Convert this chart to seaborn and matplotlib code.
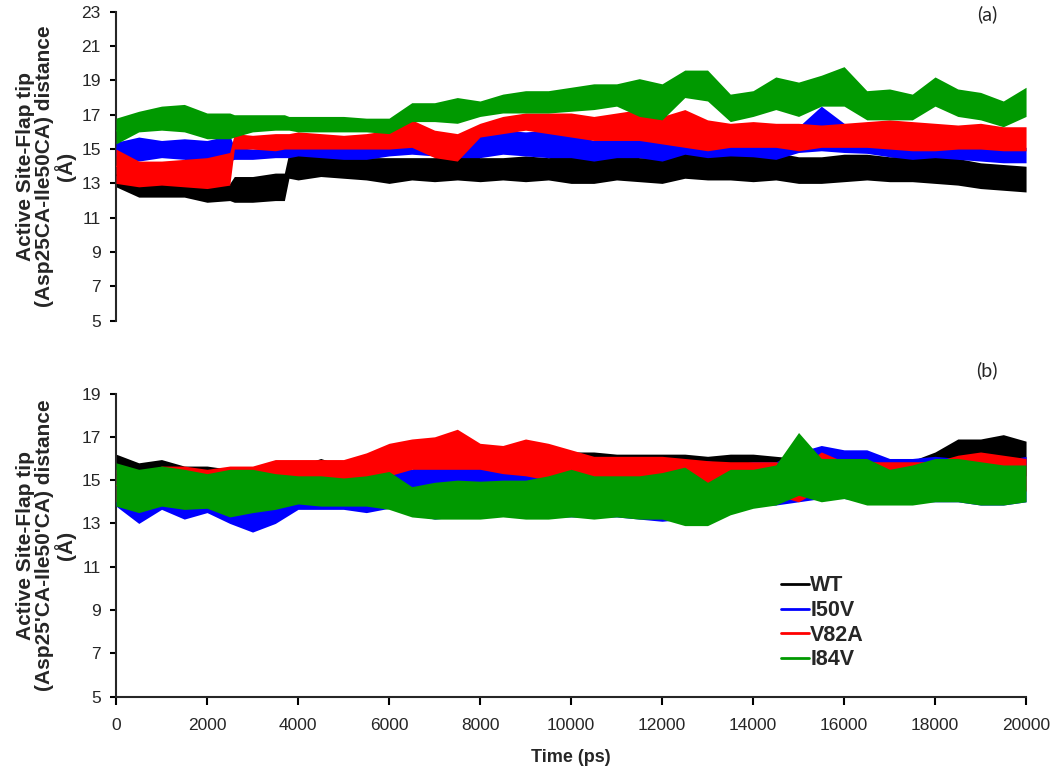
import matplotlib
matplotlib.use("Agg")
import matplotlib.pyplot as plt
from matplotlib.lines import Line2D
import numpy as np
import pandas as pd
import seaborn as sns

# ---- data: lower / upper edge of each noisy trace ----
series = ["WT", "I50V", "V82A", "I84V"]
colors = ["#000000", "#0000ff", "#ff0000", "#009900"]

# panel (a): Asp25CA-Ile50CA
time_a = [0, 500, 1000, 1500, 2000, 2500, 2600, 3000, 3500, 3700, 3800, 4000,
          4500, 5000, 5500, 6000, 6500, 7000, 7500, 8000, 8500, 9000, 9500,
          10000, 10500, 11000, 11500, 12000, 12500, 13000, 13500, 14000, 14500,
          15000, 15500, 16000, 16500, 17000, 17500, 18000, 18500, 19000, 19500, 20000]
wt_a_lo = [12.8, 12.2, 12.2, 12.2, 11.9, 12.0, 11.9, 11.9, 12.0, 12.0, 13.3, 13.2,
           13.4, 13.3, 13.2, 13.0, 13.2, 13.1, 13.2, 13.1, 13.2, 13.1, 13.2,
           13.0, 13.0, 13.2, 13.1, 13.0, 13.3, 13.2, 13.2, 13.1, 13.2,
           13.0, 13.0, 13.1, 13.2, 13.1, 13.1, 13.0, 12.9, 12.7, 12.6, 12.5]
wt_a_hi = [14.2, 13.2, 13.0, 13.0, 12.9, 13.0, 13.4, 13.4, 13.6, 13.6, 14.8, 14.8,
           14.7, 14.5, 14.5, 14.5, 14.5, 14.5, 14.7, 14.5, 14.5, 14.6, 14.5,
           14.6, 14.5, 14.7, 14.5, 14.5, 14.8, 14.7, 14.75, 14.8, 14.8,
           14.55, 14.55, 14.7, 14.7, 14.55, 14.6, 14.55, 14.45, 14.2, 14.1, 14.0]
i50v_a_lo = [14.6, 14.3, 14.5, 14.4, 14.1, 14.3, 14.4, 14.4, 14.5, 14.5, 14.5, 14.6,
             14.5, 14.4, 14.4, 14.6, 14.7, 14.6, 14.5, 14.5, 14.7, 14.6, 14.5,
             14.5, 14.3, 14.5, 14.5, 14.3, 14.7, 14.5, 14.6, 14.55, 14.4,
             14.8, 14.9, 14.8, 14.75, 14.55, 14.4, 14.5, 14.4, 14.3, 14.2, 14.2]
i50v_a_hi = [15.4, 15.7, 15.5, 15.6, 15.5, 15.8, 15.1, 15.0, 15.1, 15.1, 15.1, 15.1,
             15.2, 15.1, 15.2, 15.2, 15.3, 15.2, 15.3, 15.9, 16.1, 16.0, 16.1,
             15.9, 15.5, 15.7, 15.7, 15.5, 15.7, 16.3, 15.6, 15.3, 15.4,
             16.3, 17.5, 16.5, 16.3, 15.9, 15.3, 15.3, 15.3, 15.2, 15.1, 15.1]
v82a_a_lo = [13.0, 12.8, 12.9, 12.8, 12.7, 12.9, 15.0, 15.0, 14.9, 15.0, 15.0, 15.0,
             15.0, 15.0, 15.0, 15.0, 15.1, 14.5, 14.3, 15.7, 15.9, 16.1, 15.9,
             15.7, 15.5, 15.5, 15.5, 15.3, 15.1, 14.9, 15.1, 15.1, 15.1,
             14.9, 15.1, 15.1, 15.1, 15.0, 14.9, 14.9, 15.0, 15.0, 14.9, 14.9]
v82a_a_hi = [15.0, 14.3, 14.3, 14.4, 14.5, 14.8, 15.9, 15.8, 15.9, 15.9, 15.9, 16.0,
             15.9, 15.8, 15.9, 16.1, 16.7, 16.1, 15.9, 16.5, 16.9, 17.1, 17.1,
             17.1, 16.9, 17.1, 17.3, 16.9, 17.3, 16.7, 16.5, 16.6, 16.5,
             16.5, 16.4, 16.5, 16.6, 16.7, 16.6, 16.5, 16.4, 16.5, 16.3, 16.3]
i84v_a_lo = [15.3, 16.0, 16.1, 16.0, 15.6, 15.6, 15.7, 16.0, 16.1, 16.1, 16.1, 16.0,
             16.0, 16.0, 16.0, 15.9, 16.6, 16.6, 16.5, 16.9, 17.1, 17.1, 17.1,
             17.2, 17.3, 17.5, 16.9, 16.7, 18.0, 17.8, 16.6, 16.9, 17.3,
             16.9, 17.5, 17.5, 16.7, 16.7, 16.7, 17.5, 16.9, 16.7, 16.3, 16.9]
i84v_a_hi = [16.8, 17.2, 17.5, 17.6, 17.1, 17.1, 17.0, 17.0, 17.0, 17.0, 16.9, 16.9,
             16.9, 16.9, 16.8, 16.8, 17.7, 17.7, 18.0, 17.8, 18.2, 18.4, 18.4,
             18.6, 18.8, 18.8, 19.1, 18.8, 19.6, 19.6, 18.2, 18.4, 19.2,
             18.9, 19.3, 19.8, 18.4, 18.5, 18.2, 19.2, 18.5, 18.3, 17.8, 18.6]

# panel (b): Asp25'CA-Ile50'CA
time_b = [0, 500, 1000, 1500, 2000, 2500, 3000, 3500, 4000, 4500, 5000, 5500,
          6000, 6500, 7000, 7500, 8000, 8500, 9000, 9500, 10000, 10500, 11000,
          11500, 12000, 12500, 13000, 13500, 14000, 14500, 15000, 15500, 16000,
          16500, 17000, 17500, 18000, 18500, 19000, 19500, 20000]
wt_b_lo = [14.3, 14.3, 14.3, 14.3, 14.3, 14.3, 14.3, 14.3, 14.3, 14.3, 14.3, 14.3,
           14.3, 14.8, 14.8, 14.8, 14.8, 14.8, 14.8, 14.8, 14.6, 14.6, 14.6,
           14.6, 14.6, 14.6, 14.6, 14.6, 14.6, 14.6, 14.6, 14.6, 14.6,
           14.6, 14.6, 14.6, 14.8, 15.2, 15.2, 15.2, 15.2]
wt_b_hi = [16.2, 15.8, 15.95, 15.65, 15.65, 15.5, 15.5, 15.65, 15.65, 16.0, 15.65, 15.8,
           15.95, 15.5, 15.95, 15.9, 15.9, 15.8, 15.8, 15.9, 16.3, 16.3, 16.2,
           16.2, 16.2, 16.2, 16.1, 16.2, 16.2, 16.1, 16.0, 16.0, 16.0,
           16.0, 15.9, 15.9, 16.3, 16.9, 16.9, 17.1, 16.8]
i50v_b_lo = [13.8, 13.0, 13.65, 13.2, 13.5, 13.0, 12.6, 13.0, 13.65, 13.65, 13.65, 13.5,
             13.7, 13.4, 13.2, 13.3, 13.3, 13.4, 13.3, 13.3, 13.3, 13.3, 13.3,
             13.2, 13.1, 13.2, 13.3, 13.7, 13.85, 13.85, 14.0, 14.15, 14.15,
             14.0, 14.0, 14.0, 14.0, 14.0, 13.85, 13.85, 14.0]
i50v_b_hi = [15.5, 15.4, 15.5, 15.5, 15.4, 15.4, 15.3, 15.4, 15.5, 15.6, 15.4, 15.5,
             15.4, 15.5, 15.8, 15.7, 15.6, 15.6, 15.5, 15.6, 15.9, 15.9, 15.9,
             16.0, 16.0, 15.9, 15.9, 15.7, 15.85, 15.85, 16.3, 16.6, 16.4,
             16.4, 16.0, 16.0, 16.1, 16.0, 16.0, 15.9, 16.1]
v82a_b_lo = [14.0, 14.0, 14.0, 14.0, 14.0, 14.0, 14.0, 14.0, 14.0, 14.0, 14.0, 14.2,
             15.2, 15.5, 15.5, 15.5, 15.5, 15.3, 15.2, 15.0, 14.7, 14.7, 14.7,
             14.6, 14.7, 14.6, 14.6, 14.45, 14.45, 14.3, 14.0, 14.6, 14.5,
             14.5, 14.5, 14.5, 14.5, 14.5, 14.5, 14.5, 14.5]
v82a_b_hi = [15.5, 15.3, 15.65, 15.65, 15.5, 15.65, 15.65, 15.95, 15.95, 15.95, 15.95, 16.26,
             16.7, 16.9, 17.0, 17.35, 16.7, 16.6, 16.9, 16.7, 16.4, 16.1, 16.1,
             16.1, 16.1, 16.0, 15.9, 15.85, 15.85, 15.85, 15.55, 16.3, 15.85,
             15.85, 15.85, 15.85, 15.85, 16.15, 16.3, 16.15, 16.0]
i84v_b_lo = [13.8, 13.5, 13.8, 13.65, 13.7, 13.3, 13.5, 13.65, 13.9, 13.8, 13.8, 13.8,
             13.65, 13.3, 13.2, 13.2, 13.2, 13.3, 13.2, 13.2, 13.3, 13.2, 13.3,
             13.2, 13.2, 12.9, 12.9, 13.4, 13.7, 13.85, 14.3, 14.0, 14.15,
             13.85, 13.85, 13.85, 14.0, 14.0, 13.85, 13.85, 14.0]
i84v_b_hi = [15.8, 15.5, 15.65, 15.5, 15.3, 15.5, 15.5, 15.3, 15.2, 15.2, 15.1, 15.2,
             15.4, 14.7, 14.9, 15.0, 14.95, 15.0, 15.0, 15.2, 15.5, 15.2, 15.2,
             15.2, 15.35, 15.6, 14.9, 15.5, 15.5, 15.7, 17.2, 16.0, 16.0,
             16.0, 15.5, 15.7, 16.0, 16.0, 15.85, 15.7, 15.7]

yticks_a = list(range(5, 24, 2))
yticks_b = list(range(5, 20, 2))
xticks = list(range(0, 20001, 2000))


def long_table(times, bands):
    rows = []
    for name, (lo, hi) in zip(series, bands):
        for t, a, b in zip(times, lo, hi):
            rows.append((name, t, a))
            rows.append((name, t, b))
    return pd.DataFrame(rows, columns=["series", "time", "dist"])


df_a = long_table(time_a, [(wt_a_lo, wt_a_hi), (i50v_a_lo, i50v_a_hi),
                           (v82a_a_lo, v82a_a_hi), (i84v_a_lo, i84v_a_hi)])
df_b = long_table(time_b, [(wt_b_lo, wt_b_hi), (i50v_b_lo, i50v_b_hi),
                           (v82a_b_lo, v82a_b_hi), (i84v_b_lo, i84v_b_hi)])

sns.set_style("ticks")
plt.rcParams["font.family"] = ["Liberation Sans", "DejaVu Sans"]

fig = plt.figure(figsize=(10.5, 7.71), dpi=100)
ax_a = fig.add_axes([0.1105, 0.584, 0.8667, 0.4008])
ax_b = fig.add_axes([0.1105, 0.0964, 0.8667, 0.3932])

# band = min..max of the trace, line = its middle; later series drawn on top
for ax, df in [(ax_a, df_a), (ax_b, df_b)]:
    for k, name in enumerate(series):
        sns.lineplot(data=df[df["series"] == name], x="time", y="dist",
                     color=colors[k], estimator="mean", errorbar=("pi", 100),
                     err_kws={"alpha": 1, "linewidth": 0, "zorder": 2 + 2 * k},
                     linewidth=0.8, zorder=3 + 2 * k, legend=False, ax=ax)
    ax.set_xlim(0, 20000)
    ax.set_xlabel("")
    for s in ["top", "right"]:
        ax.spines[s].set_visible(False)
    ax.spines["left"].set_linewidth(1.5)
    ax.spines["bottom"].set_linewidth(1.5)
    ax.tick_params(axis="both", direction="out", width=1.5, length=4,
                   labelsize=12.5, pad=7, color="black")

ylab_font = {"family": ["Liberation Sans Narrow", "Liberation Sans"],
             "weight": "bold", "size": 15}

ax_a.set_ylim(5, 23)
ax_a.set_yticks(yticks_a)
ax_a.spines["bottom"].set_visible(False)
ax_a.tick_params(axis="x", bottom=False, labelbottom=False)
ax_a.set_ylabel("Active Site-Flap tip\n(Asp25CA-Ile50CA) distance\n(\u00c5)",
                fontdict=ylab_font, linespacing=1.0)
ax_a.yaxis.set_label_coords(-0.044, 0.5)
ax_a.text(0.957, 0.993, "(a)", transform=ax_a.transAxes, ha="center",
          va="center", fontsize=14, family=["Lato", "DejaVu Sans"])

ax_b.set_ylim(5, 19)
ax_b.set_yticks(yticks_b)
ax_b.set_xticks(xticks)
ax_b.tick_params(axis="x", length=6, pad=9)
ax_b.set_ylabel("Active Site-Flap tip\n(Asp25'CA-Ile50'CA) distance\n(\u00c5)",
                fontdict=ylab_font, linespacing=1.0)
ax_b.yaxis.set_label_coords(-0.044, 0.5)
ax_b.set_xlabel("Time (ps)", fontsize=13, fontweight="bold", labelpad=12)
ax_b.text(0.957, 1.078, "(b)", transform=ax_b.transAxes, ha="center",
          va="center", fontsize=14, family=["Lato", "DejaVu Sans"])

handles = [Line2D([0], [0], color=c, linewidth=2) for c in colors]
ax_b.legend(handles, series, loc="upper left", bbox_to_anchor=(0.731, 0.40),
            frameon=False, borderpad=0, borderaxespad=0, handlelength=1.3,
            handletextpad=0.05, labelspacing=0.17,
            prop={"weight": "bold", "size": 15.5})

fig.savefig("out.png", dpi=100)
